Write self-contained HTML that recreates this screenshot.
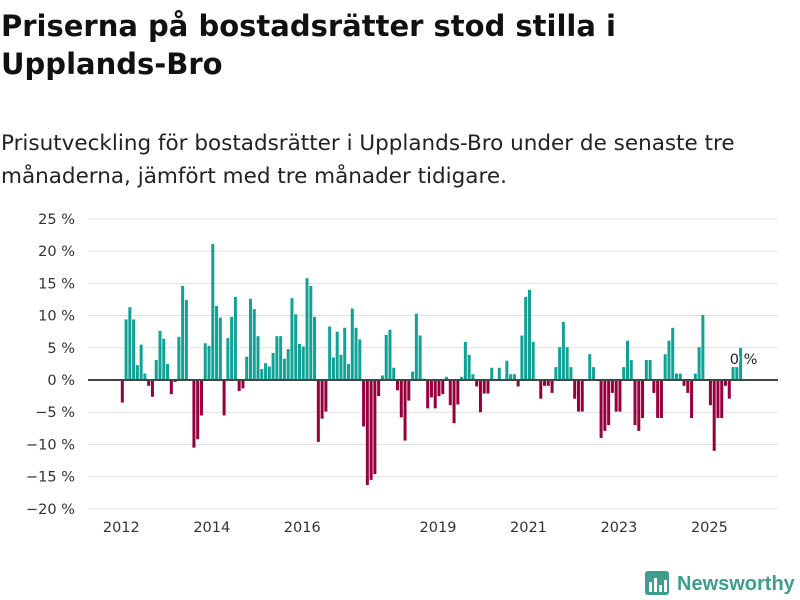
<!DOCTYPE html>
<html><head><meta charset="utf-8">
<style>
body{margin:0;background:#fff;width:800px;height:600px;overflow:hidden;font-family:"DejaVu Sans",sans-serif;position:relative}
#title{position:absolute;left:1px;top:7px;margin:0;font-size:29px;font-weight:bold;line-height:38px;color:#111;white-space:nowrap}
#sub{position:absolute;left:1px;top:127px;margin:0;font-size:21.5px;line-height:33px;color:#222;white-space:nowrap}
svg{position:absolute;left:0;top:0}
</style></head><body>
<h1 id="title">Priserna på bostadsrätter stod stilla i<br>Upplands-Bro</h1>
<p id="sub">Prisutveckling för bostadsrätter i Upplands-Bro under de senaste tre<br>månaderna, jämfört med tre månader tidigare.</p>
<svg id="chart" width="800" height="600"></svg>
<script>
const values=[-3.5,9.4,11.3,9.4,2.3,5.5,1,-0.9,-2.6,3.1,7.6,6.4,2.5,-2.2,-0.3,6.7,14.6,12.4,0,-10.5,-9.2,-5.5,5.7,5.3,21.1,11.5,9.7,-5.5,6.5,9.8,12.9,-1.7,-1.3,3.6,12.6,11,6.8,1.7,2.6,2.1,4.2,6.8,6.8,3.3,4.8,12.7,10.2,5.6,5.2,15.8,14.6,9.8,-9.6,-6.0,-4.9,8.3,3.5,7.5,3.9,8.1,2.5,11.1,8.1,6.3,-7.2,-16.3,-15.5,-14.6,-2.5,0.7,7,7.8,1.9,-1.6,-5.8,-9.4,-3.2,1.3,10.3,6.9,0.2,-4.4,-2.7,-4.4,-2.5,-2.2,0.5,-3.9,-6.7,-3.8,0.5,5.9,3.9,0.9,-1,-5,-2.1,-2.1,1.9,0,1.9,0,3,0.9,0.9,-1,6.9,12.9,14,5.9,0,-2.9,-0.9,-0.9,-2,2,5.1,9,5.1,2,-2.9,-4.9,-4.9,0,4,2,0,-9,-7.9,-7,-2,-4.9,-4.9,2,6.1,3.1,-7,-7.9,-5.9,3.1,3.1,-2,-5.9,-5.9,4,6.1,8.1,1,1,-0.9,-2,-5.9,1,5.1,10.1,0,-3.9,-11,-5.9,-5.9,-0.9,-2.9,2,2,5];
const startYear=2012;
const yTicks=[25,20,15,10,5,0,-5,-10,-15,-20];
const xTickYears=[2012,2014,2016,2019,2021,2023,2025];
const lastLabel="0 %";
const NS="http://www.w3.org/2000/svg";
const svg=document.getElementById('chart');
function y(v){return 380-v*6.444;}
function x(i){return 122.3+i*3.77;}
function mk(t,a){const e=document.createElementNS(NS,t);for(const k in a)e.setAttribute(k,a[k]);svg.appendChild(e);return e;}
yTicks.forEach(t=>{
  const l=mk('line',{x1:88,x2:778,y1:y(t),y2:y(t),stroke:t===0?'#444':'#e0e0e0','stroke-width':t===0?2:1});
  
  
  const tx=mk('text',{x:75,y:y(t)+5,'text-anchor':'end','font-size':14.5,fill:'#333','font-family':'DejaVu Sans, sans-serif'});
  tx.textContent=(t<0?'\u2212'+(-t):t)+' %';
  
  
});
values.forEach((v,i)=>{
  if(v===0)return;
  const r=mk('rect',{x:x(i)-1.5,width:3,y:Math.min(y(v),y(0)),height:Math.abs(y(v)-y(0)),fill:v>0?'#10a294':'#98003d'});
  
  
});
const z=mk('line',{x1:88,x2:778,y1:y(0),y2:y(0),stroke:'#444','stroke-width':2});


xTickYears.forEach(yr=>{
  const t=mk('text',{x:x((yr-startYear)*12)-1,y:532,'text-anchor':'middle','font-size':14.5,fill:'#333','font-family':'DejaVu Sans, sans-serif'});
  t.textContent=yr;
  
  
});
const li=values.length-1;
const lbl=mk('text',{x:x(li)+3,y:y(0)-16,'text-anchor':'middle','font-size':14.5,fill:'#222',stroke:'#fff','stroke-width':3,'paint-order':'stroke','font-family':'DejaVu Sans, sans-serif'});
lbl.textContent=lastLabel;


</script>
<svg width="800" height="600" style="position:absolute;left:0;top:0;pointer-events:none">
  <rect x="645" y="571" width="24" height="24" rx="3" fill="#3d9d8f"/>
  <rect x="649" y="582" width="3" height="10" fill="#fff"/>
  <rect x="654" y="578" width="3" height="14" fill="#fff"/>
  <rect x="659" y="585" width="3" height="7" fill="#fff"/>
  <rect x="664" y="580" width="3" height="12" fill="#fff"/>
  <text x="677" y="590" font-size="20" font-weight="bold" fill="#3d9d8f" font-family="Liberation Sans, sans-serif">Newsworthy</text>
</svg>
</body></html>
